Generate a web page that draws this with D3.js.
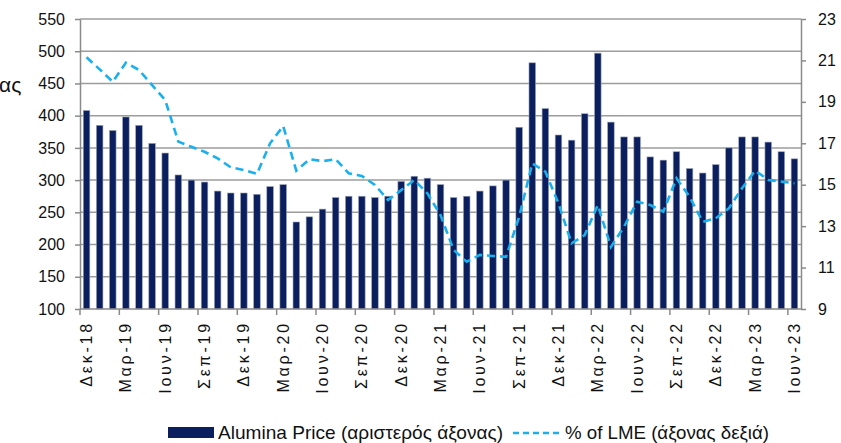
<!DOCTYPE html>
<html>
<head>
<meta charset="utf-8">
<script src="https://cdn.jsdelivr.net/npm/d3@7"></script>
<style>
  html, body { margin: 0; padding: 0; background: #fff; }
  svg { display: block; }
  text { font-family: "Liberation Sans", Arial, sans-serif; fill: #111; }
</style>
</head>
<body>
<svg id="chart" width="841" height="443"></svg>
<script>
// Monthly categories, Dec-18 .. Jun-23
const months = [
  "Δεκ-18",
  "Ιαν-19","Φεβ-19","Μαρ-19","Απρ-19","Μαϊ-19","Ιουν-19","Ιουλ-19","Αυγ-19","Σεπ-19","Οκτ-19","Νοε-19","Δεκ-19",
  "Ιαν-20","Φεβ-20","Μαρ-20","Απρ-20","Μαϊ-20","Ιουν-20","Ιουλ-20","Αυγ-20","Σεπ-20","Οκτ-20","Νοε-20","Δεκ-20",
  "Ιαν-21","Φεβ-21","Μαρ-21","Απρ-21","Μαϊ-21","Ιουν-21","Ιουλ-21","Αυγ-21","Σεπ-21","Οκτ-21","Νοε-21","Δεκ-21",
  "Ιαν-22","Φεβ-22","Μαρ-22","Απρ-22","Μαϊ-22","Ιουν-22","Ιουλ-22","Αυγ-22","Σεπ-22","Οκτ-22","Νοε-22","Δεκ-22",
  "Ιαν-23","Φεβ-23","Μαρ-23","Απρ-23","Μαϊ-23","Ιουν-23"
];

// Alumina price (left axis)
const aluminaPrice = [
  408,
  385, 377, 398, 385, 357, 342, 308, 300, 297, 283, 280, 280,
  278, 290, 293, 235, 243, 255, 273, 275, 275, 273, 275, 298,
  306, 303, 293, 273, 275, 283, 291, 300, 382, 482, 411, 370,
  362, 403, 497, 390, 367, 367, 336, 331, 344, 318, 311, 324,
  350, 367, 367, 359, 344, 333
];

// Alumina price as % of LME aluminium (right axis)
const pctOfLME = [
  21.15,
  20.57, 19.97, 20.89, 20.54, 19.81, 19.09, 17.08, 16.83, 16.59, 16.27, 15.84, 15.71,
  15.52, 17.00, 17.83, 15.68, 16.23, 16.14, 16.23, 15.55, 15.42, 14.99, 14.26, 14.74,
  15.23, 14.58, 13.54, 11.85, 11.28, 11.61, 11.56, 11.52, 13.45, 16.03, 15.63, 14.10,
  12.17, 12.57, 14.02, 12.00, 12.97, 14.18, 14.02, 13.70, 15.31, 14.42, 13.21, 13.38,
  13.86, 14.83, 15.68, 15.23, 15.15, 15.07
];

// Axis tick values and labelled months
const leftTicks = [100, 150, 200, 250, 300, 350, 400, 450, 500, 550];
const rightTicks = [9, 11, 13, 15, 17, 19, 21, 23];
const labelledMonths = [
  "Δεκ-18","Μαρ-19","Ιουν-19","Σεπ-19","Δεκ-19","Μαρ-20","Ιουν-20","Σεπ-20","Δεκ-20",
  "Μαρ-21","Ιουν-21","Σεπ-21","Δεκ-21","Μαρ-22","Ιουν-22","Σεπ-22","Δεκ-22","Μαρ-23","Ιουν-23"
];

const seriesNames = ["Alumina Price (αριστερός άξονας)", "% of LME (άξονας δεξιά)"];

const BAR_COLOR = "#0b1f5e";
const LINE_COLOR = "#1ab0ee";
const GRID_COLOR = "#9c9c9c";
const AXIS_COLOR = "#8a8a8a";

const svg = d3.select("#chart");
const plot = { left: 80, right: 801, top: 19, bottom: 309 };

const x = d3.scaleBand()
  .domain(months)
  .range([plot.left, plot.right])
  .paddingInner(0.5)
  .paddingOuter(0.25);
const step = x.step();

const yL = d3.scaleLinear().domain([100, 550]).range([plot.bottom, plot.top]);
const yR = d3.scaleLinear().domain([9, 23]).range([plot.bottom, plot.top]);

// horizontal gridlines
svg.append("g")
  .selectAll("line")
  .data(leftTicks.filter(v => v > 100))
  .join("line")
  .attr("x1", plot.left).attr("x2", plot.right)
  .attr("y1", d => yL(d)).attr("y2", d => yL(d))
  .attr("stroke", GRID_COLOR).attr("stroke-width", 1.5);

// bars
svg.append("g")
  .selectAll("rect")
  .data(months.map((m, i) => ({ m, v: aluminaPrice[i] })))
  .join("rect")
  .attr("x", d => x(d.m))
  .attr("width", x.bandwidth())
  .attr("y", d => yL(d.v))
  .attr("height", d => yL(100) - yL(d.v))
  .attr("fill", BAR_COLOR)
  .attr("stroke", "#9aa3b8")
  .attr("stroke-width", 0.6);

// % of LME line
const line = d3.line()
  .x((d, i) => x(months[i]) + x.bandwidth() / 2)
  .y(d => yR(d));
svg.append("path")
  .datum(pctOfLME)
  .attr("d", line)
  .attr("fill", "none")
  .attr("stroke", LINE_COLOR)
  .attr("stroke-width", 2.6)
  .attr("stroke-dasharray", "8,5");

// left axis
const gL = svg.append("g")
  .attr("transform", `translate(${plot.left},0)`)
  .call(d3.axisLeft(yL).tickValues(leftTicks).tickSize(5).tickPadding(10).tickSizeOuter(0));
gL.select(".domain").attr("stroke", AXIS_COLOR).attr("stroke-width", 1.5);
gL.selectAll(".tick line").attr("stroke", AXIS_COLOR).attr("stroke-width", 1.5);
gL.selectAll(".tick text").style("font-size", "16px").attr("fill", "#111");

// right axis
const gR = svg.append("g")
  .attr("transform", `translate(${plot.right},0)`)
  .call(d3.axisRight(yR).tickValues(rightTicks).tickSize(5).tickPadding(12).tickSizeOuter(0));
gR.select(".domain").attr("stroke", AXIS_COLOR).attr("stroke-width", 1.5);
gR.selectAll(".tick line").attr("stroke", AXIS_COLOR).attr("stroke-width", 1.5);
gR.selectAll(".tick text").style("font-size", "16px").attr("fill", "#111");

// bottom axis: baseline, quarterly tick marks at group boundaries
const gB = svg.append("g");
gB.append("line")
  .attr("x1", plot.left).attr("x2", plot.right)
  .attr("y1", plot.bottom).attr("y2", plot.bottom)
  .attr("stroke", AXIS_COLOR).attr("stroke-width", 1.5);
gB.selectAll("line.tk")
  .data(labelledMonths)
  .join("line")
  .attr("class", "tk")
  .attr("x1", d => x(d) - step * 0.25).attr("x2", d => x(d) - step * 0.25)
  .attr("y1", plot.bottom).attr("y2", plot.bottom + 6)
  .attr("stroke", AXIS_COLOR).attr("stroke-width", 1.5);
gB.selectAll("text")
  .data(labelledMonths)
  .join("text")
  .attr("transform", d => `translate(${x(d) + x.bandwidth() / 2 + 5.5},321) rotate(-90)`)
  .attr("text-anchor", "end")
  .style("font-size", "16px")
  .style("letter-spacing", "2.8px")
  .text(d => d);

// partially visible side title
svg.append("text")
  .attr("x", -1).attr("y", 92)
  .style("font-size", "21px")
  .text("ας");

// legend
const lg = svg.append("g");
lg.append("rect")
  .attr("x", 168).attr("y", 427).attr("width", 46).attr("height", 11)
  .attr("fill", BAR_COLOR);
lg.append("text")
  .attr("x", 218).attr("y", 439)
  .attr("textLength", 285).attr("lengthAdjust", "spacingAndGlyphs")
  .style("font-size", "19px")
  .text(seriesNames[0]);
lg.append("line")
  .attr("x1", 513).attr("x2", 563).attr("y1", 433).attr("y2", 433)
  .attr("stroke", LINE_COLOR).attr("stroke-width", 2.6)
  .attr("stroke-dasharray", "6,4");
lg.append("text")
  .attr("x", 565).attr("y", 439)
  .attr("textLength", 204).attr("lengthAdjust", "spacingAndGlyphs")
  .style("font-size", "19px")
  .text(seriesNames[1]);
</script>
</body>
</html>
